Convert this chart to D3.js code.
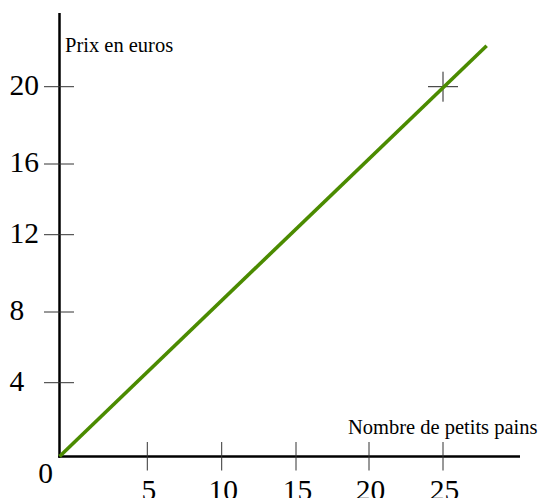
<!DOCTYPE html>
<html>
<head>
<meta charset="utf-8">
<script src="https://cdn.jsdelivr.net/npm/d3@7"></script>
<style>
  html, body { margin: 0; padding: 0; background: #fff; }
  svg { display: block; }
  text { font-family: "Liberation Serif", "Times New Roman", serif; fill: #000; }
</style>
</head>
<body>
<script>
// ---- data ----
const xTicks = [5, 10, 15, 20, 25];
const yTicks = [4, 8, 12, 16, 20];
const xTitle = "Nombre de petits pains";
const yTitle = "Prix en euros";
const originLabel = "0";
// price line (0.8 € per roll)
const lineCount = [0, 27.95];
const linePrice = [0, 22.12];
// marked point
const markCount = [25];
const markPrice = [20];

// ---- layout ----
const W = 539, H = 498;
const svg = d3.select("body").append("svg").attr("width", W).attr("height", H);

// hand-placed graduations of the original figure -> piecewise scales
const x = d3.scaleLinear()
  .domain([0, 5, 10, 15, 20, 25])
  .range([59.5, 147.3, 221.7, 296, 369, 443]);
const y = d3.scaleLinear()
  .domain([0, 4, 8, 12, 16, 20])
  .range([456.5, 382.7, 312, 234.7, 164, 86.7]);

// axes lines
svg.append("line")
  .attr("x1", x(0)).attr("x2", x(0))
  .attr("y1", 13).attr("y2", y(0) + 1.3)
  .attr("stroke", "#000").attr("stroke-width", 2.5);
svg.append("line")
  .attr("x1", x(0) - 1.3).attr("x2", 520)
  .attr("y1", y(0)).attr("y2", y(0))
  .attr("stroke", "#000").attr("stroke-width", 2.6);

// x ticks
svg.selectAll(".xt").data(xTicks).enter().append("line")
  .attr("x1", d => x(d)).attr("x2", d => x(d))
  .attr("y1", y(0) - 14.5).attr("y2", y(0) + 14)
  .attr("stroke", "#333").attr("stroke-width", 1);
svg.selectAll(".xl").data(xTicks).enter().append("text")
  .attr("x", d => x(d) + 1.5).attr("y", 499.5)
  .attr("text-anchor", "middle")
  .style("font-size", "29.5px")
  .text(d => d);

// y ticks
svg.selectAll(".yt").data(yTicks).enter().append("line")
  .attr("x1", 44).attr("x2", 74)
  .attr("y1", d => y(d)).attr("y2", d => y(d))
  .attr("stroke", "#333").attr("stroke-width", 1);
svg.selectAll(".yl").data(yTicks).enter().append("text")
  .attr("x", 9.5).attr("y", d => y(d) + 8)
  .attr("text-anchor", "start")
  .style("font-size", "29.5px")
  .text(d => d);

// origin label
svg.append("text")
  .attr("x", 45.5).attr("y", 483)
  .attr("text-anchor", "middle")
  .style("font-size", "29.5px")
  .text(originLabel);

// titles
svg.append("text")
  .attr("x", 65).attr("y", 51.5)
  .attr("text-anchor", "start")
  .style("font-size", "20.5px")
  .text(yTitle);
svg.append("text")
  .attr("x", 537.5).attr("y", 433.5)
  .attr("text-anchor", "end")
  .style("font-size", "20.5px")
  .text(xTitle);

// marked point cross
const cross = svg.selectAll(".mk").data(markCount.map((c, i) => [c, markPrice[i]])).enter().append("g");
cross.append("line")
  .attr("x1", d => x(d[0]) - 15).attr("x2", d => x(d[0]) + 15)
  .attr("y1", d => y(d[1])).attr("y2", d => y(d[1]))
  .attr("stroke", "#222").attr("stroke-width", 1);
cross.append("line")
  .attr("x1", d => x(d[0])).attr("x2", d => x(d[0]))
  .attr("y1", d => y(d[1]) - 15).attr("y2", d => y(d[1]) + 15)
  .attr("stroke", "#222").attr("stroke-width", 1);

// price line
const pts = lineCount.map((c, i) => [c, linePrice[i]]);
svg.append("path")
  .datum(pts)
  .attr("d", d3.line().x(d => x(d[0])).y(d => y(d[1])))
  .attr("fill", "none")
  .attr("stroke", "#4b8b00")
  .attr("stroke-width", 3.6);
</script>
</body>
</html>
